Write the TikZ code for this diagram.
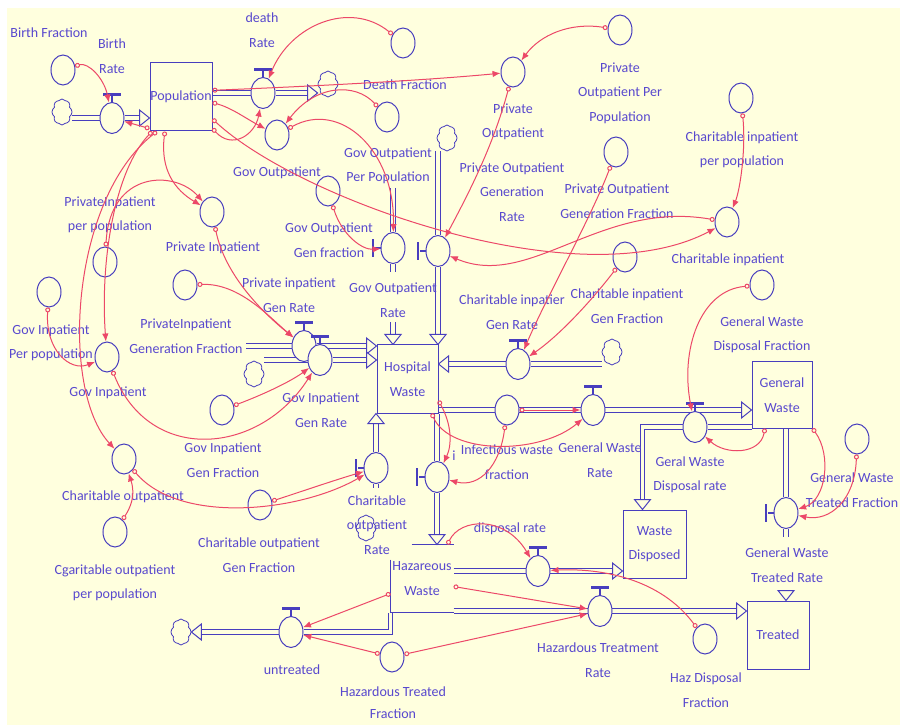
\documentclass[tikz,border=0pt]{standalone}
\usepackage{fontspec}
\setmainfont{Carlito}
\usepackage{tikz}
\usetikzlibrary{arrows.meta, shapes.geometric, shapes.symbols, positioning, backgrounds}

\definecolor{vbg}{RGB}{255,255,222}
\definecolor{vblue}{RGB}{72,62,190}
\definecolor{vtext}{RGB}{88,72,206}
\definecolor{vred}{RGB}{236,72,104}

\newcommand{\lblfont}{\fontsize{14}{24.5}\selectfont}
\newcommand{\flowhead}[2]{\draw[vblue, fill=vbg, line width=1pt, shift={#1}, rotate=#2] (0,0) -- (-10,8) -- (-10,-8) -- cycle;}

\begin{document}
\begin{tikzpicture}[
    x=1pt, y=-1pt, pin distance=6pt,
    stock/.style={rectangle, draw=vblue, fill=vbg, line width=1pt, text=vtext, font=\lblfont, align=center, inner sep=0pt},
    hbar/.style={rectangle, fill=vblue, minimum width=18pt, minimum height=2.6pt, inner sep=0pt, pin edge={vblue, line width=1.2pt}},
    vbar/.style={rectangle, fill=vblue, minimum width=2.6pt, minimum height=18pt, inner sep=0pt, pin edge={vblue, line width=1.2pt}},
    valve/.style={ellipse, draw=vblue, fill=vbg, line width=1pt, minimum width=24pt, minimum height=31pt, inner sep=0pt, pin={[hbar]90:{}}},
    svalve/.style={ellipse, draw=vblue, fill=vbg, line width=1pt, minimum width=24pt, minimum height=31pt, inner sep=0pt, pin={[vbar]180:{}}},
    aux/.style={ellipse, draw=vblue, fill=vbg, line width=1pt, minimum width=24pt, minimum height=30pt, inner sep=0pt},
    cloud_node/.style={cloud, cloud puffs=8, cloud puff arc=110, draw=vblue, fill=vbg, line width=.8pt, minimum width=20pt, minimum height=26pt, inner sep=0pt},
    pipe/.style={draw=vblue, line width=1pt, double=vbg, double distance=3.5pt},
    link/.style={draw=vred, line width=1pt, {Circle[open, length=5pt, width=5pt]}-{Latex[length=8pt, width=6.5pt]}},
    lbl/.style={text=vtext, font=\lblfont, align=center, inner sep=0pt}
]
    \useasboundingbox (0,0) rectangle (900,727);

    % Stocks
    \node[stock, minimum width=62pt, minimum height=68pt] (pop) at (181,97) {Population};
    \node[stock, minimum width=61pt, minimum height=68pt] (hw) at (407.5,379) {Hospital\\Waste};
    \node[stock, minimum width=60pt, minimum height=66pt] (gw) at (782,395) {General\\Waste};
    \node[stock, minimum width=63pt, minimum height=68pt] (wd) at (654.5,544) {Waste\\Disposed};
    \node[stock, minimum width=62pt, minimum height=68pt] (tr) at (778,635) {Treated};
    \node[stock, draw=none, fill=none, minimum width=62pt, minimum height=67pt] (haz) at (422,578.5) {Hazareous\\Waste};
    \draw[vblue, line width=1pt] ([xshift=21pt]haz.north west) -- (haz.north east);
    \draw[vblue, line width=1pt] ([yshift=-15pt]haz.north west) -- (haz.south west) -- (haz.south east);

    % Clouds
    \node[cloud_node] (c1) at (62,112) {};
    \node[cloud_node] (c2) at (328,84) {};
    \node[cloud_node] (c3) at (447,138) {};
    \node[cloud_node] (c4) at (254,374) {};
    \node[cloud_node] (c5) at (612,352) {};
    \node[cloud_node] (c6) at (366,528) {};
    \node[cloud_node] (c7) at (181,632) {};

    % Valves
    \node[valve] (vbirth) at (112,118) {};
    \node[valve] (vdeath) at (263,93) {};
    \node[svalve] (vgovout) at (393,248) {};
    \node[svalve] (vprivout) at (438,251) {};
    \node[valve] (vprivin) at (304,346) {};
    \node[valve] (vgovin) at (320,360) {};
    \node[valve] (vcharin) at (518,364) {};
    \node[svalve] (vcharout) at (376,468) {};
    \node[svalve] (vinf) at (437,477) {};
    \node[valve] (vgenw) at (593,410) {};
    \node[valve] (vgwd) at (695,427) {};
    \node[svalve] (vgwt) at (786,513) {};
    \node[valve] (vdisp) at (538,571) {};
    \node[valve] (vhtr) at (600,611) {};
    \node[valve] (vuntr) at (291,632) {};

    % Auxiliaries
    \node[aux] (abf) at (63,70) {};
    \node[aux] (adf) at (403,43) {};
    \node[aux] (agovout) at (277,135) {};
    \node[aux] (agopp) at (387,117) {};
    \node[aux] (agogf) at (328,191) {};
    \node[aux] (aprivout) at (513,72) {};
    \node[aux] (apopp) at (620,30) {};
    \node[aux] (apogf) at (616,152) {};
    \node[aux] (acipp) at (741,98) {};
    \node[aux] (acharin) at (727,222) {};
    \node[aux] (acigf) at (625,257) {};
    \node[aux] (aprivin) at (212,212) {};
    \node[aux] (apipp) at (105,262) {};
    \node[aux] (apigf) at (185,285) {};
    \node[aux] (agipp) at (49,292) {};
    \node[aux] (agovin) at (107,357) {};
    \node[aux] (agigf) at (222,410) {};
    \node[aux] (acharout) at (124,459) {};
    \node[aux] (acogf) at (260,505) {};
    \node[aux] (acopp) at (115,532) {};
    \node[aux] (ainf) at (507,410) {};
    \node[aux] (agwdf) at (762,285) {};
    \node[aux] (agwtf) at (857,439) {};
    \node[aux] (ahdf) at (705,639) {};
    \node[aux] (ahtf) at (392,657) {};

    % Labels
    \node[lbl] (lbf) at (49,33) {Birth Fraction};
    \node[lbl] (lbr) at (112,56) {Birth\\Rate};
    \node[lbl] (ldr) at (262,30) {death\\Rate};
    \node[lbl] (ldf) at (405,85) {Death Fraction};
    \node[lbl] (lpo) at (513,122) {Private\\Outpatient};
    \node[lbl] (lpopp) at (620,93) {Private\\Outpatient Per\\Population};
    \node[lbl] (lcipp) at (742,150) {Charitable inpatient\\per population};
    \node[lbl] (lgo) at (277,173) {Gov Outpatient};
    \node[lbl] (lgopp) at (388,166) {Gov Outpatient\\Per Population};
    \node[lbl] (lpor) at (512,192) {Private Outpatient\\Generation\\Rate};
    \node[lbl] (lpogf) at (617,201) {Private Outpatient\\Generation Fraction};
    \node[lbl] (lgogf) at (329,240) {Gov Outpatient\\Gen fraction};
    \node[lbl] (lgor) at (393,300) {Gov Outpatient\\Rate};
    \node[lbl] (lpipp) at (110,215) {PrivateInpatient\\per population};
    \node[lbl] (lpi) at (213,248) {Private Inpatient};
    \node[lbl] (lpir) at (289,295) {Private inpatient\\Gen Rate};
    \node[lbl] (lpigf) at (186,336) {PrivateInpatient\\Generation Fraction};
    \node[lbl] (lgipp) at (51,343) {Gov Inpatient\\Per population};
    \node[lbl] (lgi) at (108,393) {Gov Inpatient};
    \node[lbl] (lgir) at (321,410) {Gov Inpatient\\Gen Rate};
    \node[lbl] (lgigf) at (223,460) {Gov Inpatient\\Gen Fraction};
    \node[lbl] (lco) at (123,497) {Charitable outpatient};
    \node[lbl] (lcogf) at (259,555) {Charitable outpatient\\Gen Fraction};
    \node[lbl] (lcopp) at (115,583) {Cgaritable outpatient\\per population};
    \node[lbl] (lcor) at (377,525) {Charitable\\outpatient\\Rate};
    \node[lbl] (lci) at (728,260) {Charitable inpatient};
    \node[lbl] (lcir) at (512,312) {Charitable inpatier\\Gen Rate};
    \node[lbl] (lcigf) at (627,306) {Charitable inpatient\\Gen Fraction};
    \node[lbl] (lgwdf) at (762,335) {General Waste\\Disposal Fraction};
    \node[lbl] (linf) at (507,462) {Infectious waste\\fraction};
    \node[lbl] (li) at (454,456) {i};
    \node[lbl] (lgwr) at (600,460) {General Waste\\Rate};
    \node[lbl] (lgwd) at (690,475) {Geral Waste\\Disposal rate};
    \node[lbl] (lgwtf) at (852,490) {General Waste\\Treated Fraction};
    \node[lbl] (lgwt) at (787,565) {General Waste\\Treated Rate};
    \node[lbl] (ldisp) at (510,529) {disposal rate};
    \node[lbl] (lhtr) at (598,660) {Hazardous Treatment\\Rate};
    \node[lbl] (lhdf) at (706,690) {Haz Disposal\\Fraction};
    \node[lbl] (lun) at (292,670) {untreated};
    \node[lbl, font=\fontsize{14}{22}\selectfont] (lhtf) at (393,703) {Hazardous Treated\\Fraction};

    % Flows
    \begin{scope}[on background layer]
        \fill[white] (0,0) rectangle (900,727);
        \fill[vbg] (7,8) rectangle (900,725);
        \coordinate (gotop) at (393,188);
        \coordinate (pistart) at (246,346);
        \draw[pipe] (c1.east |- vbirth) -- (vbirth);
        \draw[pipe] (vbirth) -- ([xshift=-10pt]vbirth -| pop.west);
        \draw[pipe] (vdeath -| pop.east) -- (vdeath);
        \draw[pipe] (vdeath) -- ([xshift=-10pt]vdeath -| c2.west);
        \draw[pipe] (gotop) -- (vgovout);
        \draw[pipe] (vgovout) -- ++(0,24);
        \draw[pipe] ([yshift=22pt]vgovout |- hw.north) -- ([yshift=10pt]vgovout |- hw.north);
        \draw[pipe] (vprivout |- c3.south) -- (vprivout);
        \draw[pipe] (vprivout) -- ([yshift=10pt]vprivout |- hw.north);
        \draw[pipe] (pistart) -- (vprivin);
        \draw[pipe] (vprivin) -- ([xshift=-10pt]vprivin -| hw.west);
        \draw[pipe] (c4.east |- vgovin) -- (vgovin);
        \draw[pipe] (vgovin) -- ([xshift=-10pt]vgovin -| hw.west);
        \draw[pipe] (vcharin -| c5.west) -- (vcharin);
        \draw[pipe] (vcharin) -- ([xshift=10pt]vcharin -| hw.east);
        \draw[pipe] (vcharout) -- ([yshift=-10pt]vcharout |- hw.south);
        \draw[pipe] (vcharout) -- ++(0,20);
        \draw[pipe] (vinf |- hw.south) -- (vinf);
        \draw[pipe] (vinf) -- ([yshift=10pt]vinf |- haz.north);
        \draw[pipe] (vgenw -| hw.east) -- ([xshift=-10pt]vgenw -| gw.west);
        \draw[pipe] (vgwd -| gw.west) -- (vgwd);
        \draw[pipe] (vgwd) -| ([xshift=-12pt, yshift=10pt]wd.north);
        \draw[pipe] (vgwt |- gw.south) -- (vgwt);
        \draw[pipe] (vgwt) -- ++(0,24);
        \draw[pipe] (vdisp -| haz.east) -- ([xshift=-10pt]vdisp -| wd.west);
        \draw[pipe] (vhtr -| haz.east) -- ([xshift=-10pt]vhtr -| tr.west);
        \draw[pipe] (haz.south west) |- (vuntr);
        \draw[pipe] (vuntr) -- ([xshift=10pt]vuntr -| c7.east);
        \flowhead{(vbirth -| pop.west)}{0}
        \flowhead{(vdeath -| c2.west)}{0}
        \flowhead{(vgovout |- hw.north)}{-90}
        \flowhead{(vprivout |- hw.north)}{-90}
        \flowhead{(vprivin -| hw.west)}{0}
        \flowhead{(vgovin -| hw.west)}{0}
        \flowhead{(vcharin -| hw.east)}{180}
        \flowhead{(vcharout |- hw.south)}{90}
        \flowhead{(vinf |- haz.north)}{-90}
        \flowhead{(vgenw -| gw.west)}{0}
        \flowhead{([xshift=-12pt]wd.north)}{-90}
        \flowhead{(vgwt |- tr.north)}{-90}
        \flowhead{(vdisp -| wd.west)}{0}
        \flowhead{(vhtr -| tr.west)}{0}
        \flowhead{(vuntr -| c7.east)}{180}
    \end{scope}

    % Links
    \draw[link] (abf) .. controls (88,62) and (104,78) .. (vbirth);
    \draw[link] (pop.-135) -- (vbirth);
    \draw[link] (pop.-45) .. controls (232,150) and (255,135) .. (vdeath);
    \draw[link] (pop.-10) .. controls (232,108) and (245,118) .. (agovout);
    \draw[link] (pop.12) .. controls (320,86) and (430,80) .. (aprivout);
    \draw[link] (pop.-35) .. controls (300,200) and (580,300) .. (acharin);
    \draw[link] (adf) .. controls (350,0) and (290,25) .. (vdeath);
    \draw[link] (agopp) .. controls (355,82) and (315,85) .. (agovout);
    \draw[link] (agovout) .. controls (340,100) and (395,150) .. (vgovout);
    \draw[link] (agogf) .. controls (342,235) and (362,250) .. (vgovout);
    \draw[link] (apopp) .. controls (570,22) and (540,35) .. (aprivout);
    \draw[link] (aprivout) .. controls (492,150) and (465,200) .. (vprivout);
    \draw[link] (acharin) .. controls (600,200) and (530,290) .. (vprivout);
    \draw[link] (apogf) .. controls (590,220) and (545,300) .. (vcharin);
    \draw[link] (acigf) .. controls (592,300) and (560,335) .. (vcharin);
    \draw[link] (acipp) .. controls (746,150) and (740,190) .. (acharin);
    \draw[link] (pop.-115) .. controls (160,170) and (175,190) .. (aprivin);
    \draw[link] (apipp) .. controls (110,170) and (175,170) .. (aprivin);
    \draw[link] (pop.-130) .. controls (115,170) and (100,260) .. (agovin);
    \draw[link] (pop.-125) .. controls (70,200) and (60,390) .. (acharout);
    \draw[link] (agipp) .. controls (45,350) and (70,372) .. (agovin);
    \draw[link] (agovin) .. controls (150,465) and (260,455) .. (vgovin);
    \draw[link] (agigf) .. controls (262,395) and (290,382) .. (vgovin);
    \draw[link] (aprivin) .. controls (225,275) and (262,312) .. (vprivin);
    \draw[link] (apigf) .. controls (240,283) and (270,318) .. (vprivin);
    \draw[link] (acharout) .. controls (180,525) and (300,512) .. (vcharout);
    \draw[link] (acogf) .. controls (300,492) and (335,480) .. (vcharout);
    \draw[link] (acopp) .. controls (130,508) and (136,496) .. (acharout);
    \draw[link] (hw.-35) .. controls (452,425) and (452,445) .. (vinf);
    \draw[link] (hw.-55) .. controls (450,455) and (540,455) .. (vgenw);
    \draw[link] (ainf) -- (vgenw);
    \draw[link] (ainf) .. controls (500,465) and (480,488) .. (vinf);
    \draw[link] (agwdf) .. controls (700,290) and (680,350) .. (vgwd);
    \draw[link] (gw.-117) .. controls (760,455) and (725,455) .. (vgwd);
    \draw[link] (gw.south east) .. controls (832,455) and (826,500) .. (vgwt);
    \draw[link] (agwtf) .. controls (855,500) and (830,522) .. (vgwt);
    \draw[link] ([xshift=-6pt]haz.north east) .. controls (460,518) and (505,515) .. (vdisp);
    \draw[link] (ahdf) .. controls (660,578) and (600,568) .. (vdisp);
    \draw[link] ([yshift=-8pt]haz.east) -- (vhtr);
    \draw[link] (ahtf) -- (vhtr);
    \draw[link] ([yshift=-15pt]haz.west) -- (vuntr);
    \draw[link] (ahtf) -- (vuntr);
\end{tikzpicture}
\end{document}
